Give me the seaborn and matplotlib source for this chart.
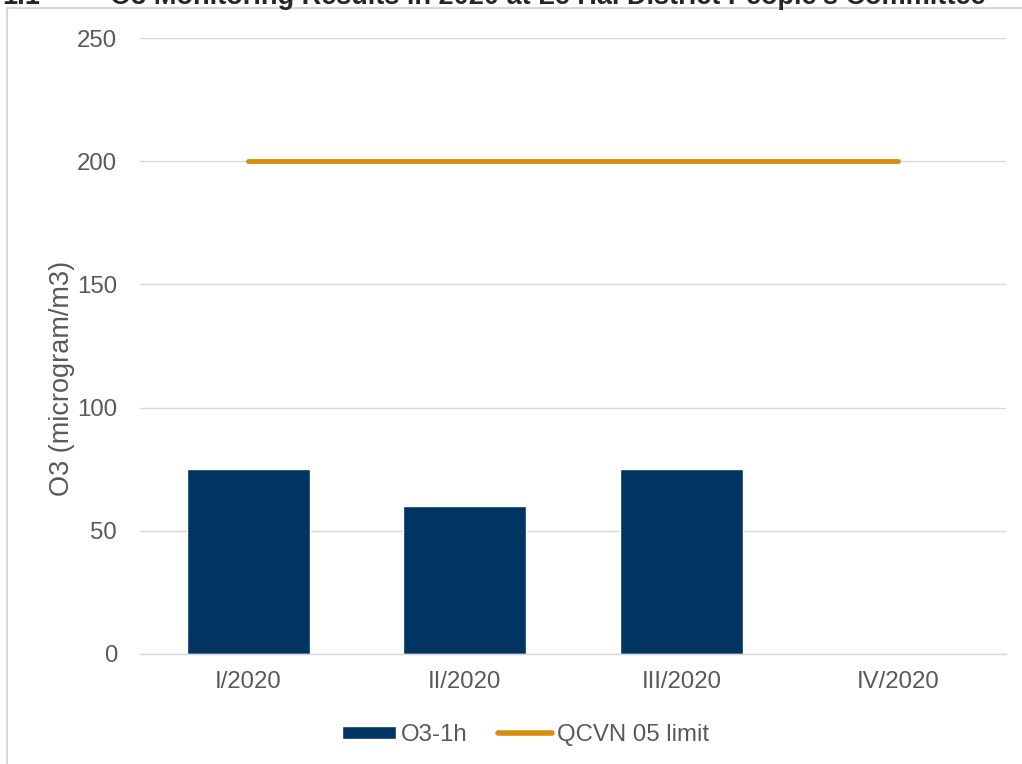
import matplotlib
matplotlib.use("Agg")
import matplotlib.pyplot as plt
import seaborn as sns
import pandas as pd
import numpy as np
from matplotlib.patches import Patch
from matplotlib.lines import Line2D

quarters = ["I/2020", "II/2020", "III/2020", "IV/2020"]
o3_values = [75, 60, 75, np.nan]
limit_values = [200, 200, 200, 200]
yticks = [0, 50, 100, 150, 200, 250]

bar_color = "#003462"
line_color = "#D4900C"
grid_color = "#D9D9D9"
text_color = "#595959"

sns.set_theme(style="white")
plt.rcParams['font.family'] = ['Liberation Sans', 'DejaVu Sans']

fig = plt.figure(figsize=(10.22, 7.64), dpi=100)
ax = fig.add_axes([140/1022, 1-654/764, 866/1022, 616/764])

df = pd.DataFrame({"quarter": quarters, "O3-1h": o3_values, "limit": limit_values})
sns.barplot(data=df, x="quarter", y="O3-1h", color=bar_color, width=0.57,
            saturation=1, ax=ax, zorder=2)
ax.plot(np.arange(len(quarters)), df["limit"], color=line_color, lw=3.5,
        solid_capstyle="round", zorder=3)

ax.set_ylim(0, 250)
ax.set_xlim(-0.5, 3.5)
ax.set_yticks(yticks)
ax.yaxis.grid(True, color=grid_color, lw=1)
ax.set_axisbelow(True)
for s in ["top", "right", "left"]:
    ax.spines[s].set_visible(False)
ax.spines["bottom"].set_color(grid_color)
ax.spines["bottom"].set_linewidth(1)
ax.tick_params(axis="both", length=0, labelsize=17.3, colors=text_color)
ax.tick_params(axis="y", pad=16.5)
ax.tick_params(axis="x", pad=12)
ax.set_xlabel("")
ax.set_ylabel("O3 (microgram/m3)", fontsize=19.5, color=text_color)
ax.yaxis.set_label_coords((75 - 140) / 866, (654 - 378) / 616)

handles = [Patch(facecolor=bar_color, label="O3-1h"),
           Line2D([0], [0], color=line_color, lw=4, solid_capstyle="round", label="QCVN 05 limit")]
fig.legend(handles=handles, loc="center", bbox_to_anchor=(525.5/1022, 1-735/764), ncol=2,
           frameon=False, fontsize=17.3, labelcolor=text_color, handlelength=2.25,
           handleheight=0.45, handletextpad=0.2, columnspacing=1.25)

# chart frame
fig.add_artist(Line2D([7/1022, 1.0], [1-8/764, 1-8/764], color=grid_color, lw=1.5,
                      transform=fig.transFigure))
fig.add_artist(Line2D([7/1022, 7/1022], [0, 1-8/764], color=grid_color, lw=1.5,
                      transform=fig.transFigure))

# cut-off title
fig.text(2/1022, 1-4/764, "1.1", fontsize=19.5, fontweight="bold", va="baseline", ha="left")
fig.text(110/1022, 1-4/764, "O3 Monitoring Results in 2020 at Le Hai District People's Committee",
         fontsize=19.5, fontweight="bold", va="baseline", ha="left")

fig.savefig("out.png", dpi=100)
